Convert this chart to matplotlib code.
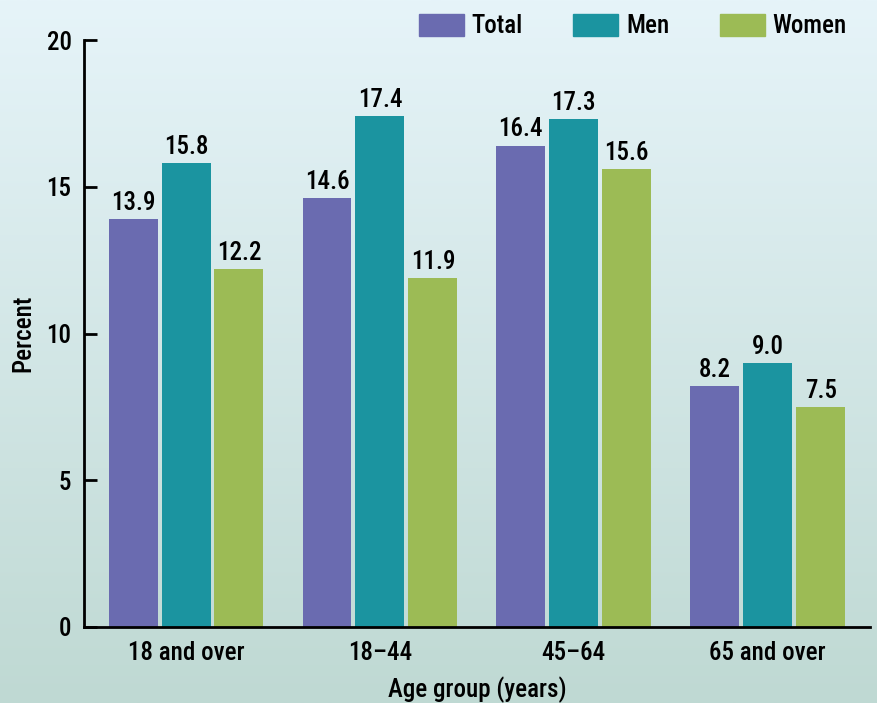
import numpy as np
import matplotlib
matplotlib.use("Agg")
import matplotlib.pyplot as plt
from matplotlib.patches import Patch

categories = ["18 and over", "18\u201344", "45\u201364", "65 and over"]
total = [13.9, 14.6, 16.4, 8.2]
men = [15.8, 17.4, 17.3, 9.0]
women = [12.2, 11.9, 15.6, 7.5]
series_names = ["Total", "Men", "Women"]
colors = ["#6a6bb0", "#1b94a0", "#9cbb55"]

plt.rcParams['font.family'] = ['Roboto Condensed', 'Liberation Sans', 'DejaVu Sans']
plt.rcParams['font.weight'] = 'medium'
plt.rcParams['axes.labelweight'] = 'medium'
FS = 18

fig = plt.figure(figsize=(8.77, 7.03), dpi=100)

# background gradient
bg = fig.add_axes([0, 0, 1, 1], zorder=-10)
top = np.array([0xe6, 0xf4, 0xf9]) / 255
bot = np.array([0xbf, 0xd9, 0xd3]) / 255
t = np.linspace(0, 1, 256)[:, None]
grad = top[None, :] * (1 - t) + bot[None, :] * t
bg.imshow(grad[:, None, :], aspect='auto', extent=[0, 1, 0, 1])
bg.set_axis_off()

ax = fig.add_axes([84 / 877, 1 - 627 / 703, (870 - 84) / 877, (627 - 40) / 703])
ax.set_facecolor('none')

x = np.arange(len(categories))
w = 0.2526
off = 0.273
for i, (vals, name, c) in enumerate(zip([total, men, women], series_names, colors)):
    bars = ax.bar(x + (i - 1) * off, vals, width=w, color=c, label=name)
    for b, v in zip(bars, vals):
        ax.annotate(f"{v:.1f}", (b.get_x() + b.get_width() / 2, v),
                    xytext=(0, 3), textcoords='offset points',
                    ha='center', va='bottom', fontsize=FS)

ax.set_xlim(-0.526, 3.527)
ax.set_ylim(0, 20)
ax.set_yticks([0, 5, 10, 15, 20])
ax.set_xticks(x)
ax.set_xticklabels(categories)
for s in ['top', 'right']:
    ax.spines[s].set_visible(False)
for s in ['left', 'bottom']:
    ax.spines[s].set_linewidth(2)
ax.tick_params(axis='y', direction='in', length=9, width=2, pad=9, labelsize=FS)
ax.tick_params(axis='x', length=0, pad=10, labelsize=FS)

ax.set_ylabel("Percent", fontsize=FS, labelpad=8)
ax.set_xlabel("Age group (years)", fontsize=FS, labelpad=8)

handles = [Patch(color=c) for c in colors]
leg = fig.legend(handles, series_names, ncol=3, frameon=False, fontsize=FS,
                 loc='upper right', bbox_to_anchor=(847 / 877, 1 - 14 / 703),
                 handlelength=1.8, handleheight=0.95, handletextpad=0.33,
                 columnspacing=2.0, borderaxespad=0, borderpad=0)

fig.savefig("out.png", dpi=100)
